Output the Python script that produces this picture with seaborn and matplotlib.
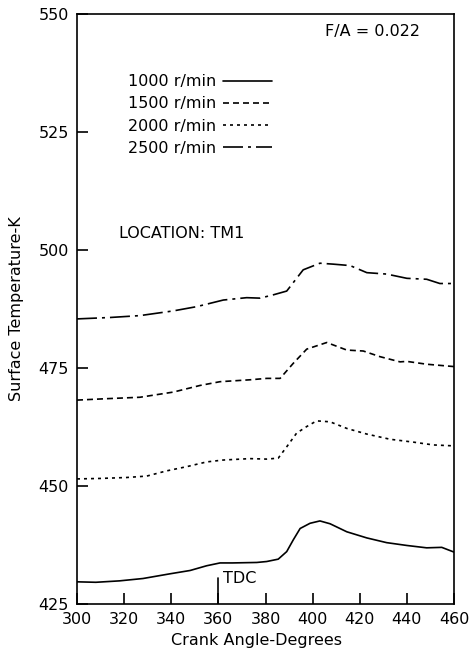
import numpy as np
import pandas as pd
import matplotlib
matplotlib.use("Agg")
import matplotlib.pyplot as plt
import seaborn as sns

sns.set_theme(style="ticks")
plt.rcParams['font.family'] = ['DejaVu Sans']
plt.rcParams['text.color'] = 'black'
plt.rcParams['axes.labelcolor'] = 'black'
plt.rcParams['xtick.color'] = 'black'
plt.rcParams['ytick.color'] = 'black'

speeds = ["1000 r/min", "1500 r/min", "2000 r/min", "2500 r/min"]

x_1000 = [300, 308, 318, 328, 339.5, 348, 355, 360.7, 366, 376.3, 380.5, 385.4, 389, 391.8, 394.7, 398.9, 403.1, 407.4, 414.5, 423, 431.4, 440, 448.4, 454.8, 460]
t_1000 = [429.7, 429.6, 429.9, 430.4, 431.4, 432.1, 433.1, 433.7, 433.7, 433.8, 434.0, 434.5, 436.1, 438.6, 441.0, 442.1, 442.6, 442.0, 440.3, 439.0, 438.0, 437.4, 436.9, 437.0, 436.0]

x_1500 = [300, 312.6, 326.7, 340.9, 352.2, 360.7, 373.4, 380.5, 386.2, 391.8, 397.5, 406, 414.5, 421.5, 428.6, 437.1, 440, 448.4, 460]
t_1500 = [468.2, 468.5, 468.8, 469.9, 471.3, 472.1, 472.5, 472.8, 472.8, 476.0, 479.0, 480.4, 478.8, 478.6, 477.4, 476.3, 476.4, 475.8, 475.3]

x_2000 = [300, 309.8, 321, 329.6, 338, 346.6, 355, 362, 373.4, 380.5, 385.4, 389, 393.2, 397.5, 401.7, 407.4, 414.5, 423, 432.9, 442.7, 451.2, 460]
t_2000 = [451.5, 451.6, 451.8, 452.1, 453.2, 454.1, 455.1, 455.5, 455.8, 455.7, 455.9, 458.3, 461.2, 462.6, 463.8, 463.6, 462.2, 461.0, 459.9, 459.3, 458.7, 458.5]

x_2500 = [300, 314, 326.7, 340.9, 350.8, 362.1, 372, 377.7, 383.3, 389, 396, 403.1, 408.8, 415.9, 423, 431.4, 440, 448.4, 454, 460]
t_2500 = [485.4, 485.7, 486.1, 487.1, 488.0, 489.4, 489.9, 489.8, 490.5, 491.3, 495.8, 497.2, 497.0, 496.7, 495.2, 494.9, 494.0, 493.8, 492.9, 492.9]

x_ticks = [300, 320, 340, 360, 380, 400, 420, 440, 460]
y_ticks = [425, 450, 475, 500, 525, 550]

frames = []
for name, xs, ts in zip(speeds, [x_1000, x_1500, x_2000, x_2500], [t_1000, t_1500, t_2000, t_2500]):
    frames.append(pd.DataFrame({"angle": xs, "temp": ts, "speed": name}))
df = pd.concat(frames, ignore_index=True)

fig = plt.figure(figsize=(4.69, 6.52), dpi=100)
ax = fig.add_axes([77/469, 48/652, 377/469, 590/652])

dash_map = {
    "1000 r/min": "",
    "1500 r/min": (3.6, 2.4),
    "2000 r/min": (1.8, 2.4),
    "2500 r/min": (12, 3, 1.8, 3),
}
sns.lineplot(data=df, x="angle", y="temp", style="speed", style_order=speeds,
             dashes=dash_map, color="black", linewidth=1.2, estimator=None,
             sort=False, ax=ax)

ax.set_xlim(300, 460)
ax.set_ylim(425, 550)
ax.set_xticks(x_ticks)
ax.set_yticks(y_ticks)
ax.tick_params(direction="in", length=8, width=1.2, labelsize=11.5, colors="black", pad=6)
for s in ax.spines.values():
    s.set_linewidth(1.2)
    s.set_color("black")

ax.set_xlabel("Crank Angle-Degrees", fontsize=11.5, labelpad=4, color="black")
ax.set_ylabel("Surface Temperature-K", fontsize=11.5, labelpad=10, color="black")
ax.xaxis.set_label_coords(0.477, -0.05)

# TDC marker
ax.axvline(360, ymin=0, ymax=(430.5 - 425) / 125, color="black", linewidth=1.2)
ax.text(362, 430.3, "TDC", fontsize=11.5, va="center", ha="left", color="black")

ax.text(405.3, 546.2, "F/A = 0.022", fontsize=11.5, va="center", ha="left", color="black")
ax.text(317.8, 503.4, "LOCATION: TM1", fontsize=11.5, va="center", ha="left", color="black")

leg = ax.legend(loc="upper left", bbox_to_anchor=(0.135, 0.898), frameon=False,
                markerfirst=False, fontsize=11.5, handlelength=3.1,
                handletextpad=0.4, labelspacing=0.45, borderpad=0, borderaxespad=0,
                title=None, labelcolor="black")

fig.savefig("out.png", dpi=100)
